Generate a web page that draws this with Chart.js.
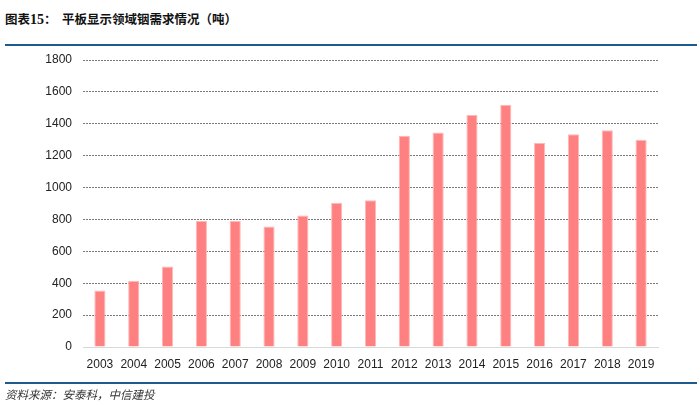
<!DOCTYPE html>
<html>
<head>
<meta charset="utf-8">
<script src="https://cdn.jsdelivr.net/npm/chart.js@4/dist/chart.umd.min.js"></script>
<style>
  html, body { margin: 0; padding: 0; background: #fff; }
  #wrap { position: relative; width: 700px; height: 405px; overflow: hidden; }
  #title { position: absolute; left: 5px; top: 9px; font: bold 12.5px "Noto Sans CJK SC", sans-serif; color: #111; white-space: nowrap; }
  #title .num { font-family: "Liberation Serif", serif; font-size: 14px; }
  #title .main { position: absolute; left: 57px; top: 0; }
  .rule { position: absolute; left: 5px; width: 692px; height: 2px; background: #1F5A8C; }
  #src { position: absolute; left: 5px; top: 386px; font: italic 11.5px "Noto Sans CJK SC", serif; color: #333; white-space: nowrap; }
  canvas { position: absolute; left: 0; top: 0; }
</style>
</head>
<body>
<div id="wrap">
  <div id="title">图表<span class="num">15</span>：<span class="main">平板显示领域铟需求情况（吨）</span></div>
  <div class="rule" style="top:44px"></div>
  <canvas id="c" width="700" height="405"></canvas>
  <div class="rule" style="top:382px"></div>
  <div id="src">资料来源：安泰科，中信建投</div>
</div>
<script>
const categories = ["2003","2004","2005","2006","2007","2008","2009","2010","2011","2012","2013","2014","2015","2016","2017","2018","2019"];
const demand = [355, 415, 505, 790, 790, 755, 825, 905, 920, 1325, 1345, 1455, 1520, 1280, 1335, 1360, 1300];
const yTicks = [0, 200, 400, 600, 800, 1000, 1200, 1400, 1600, 1800];

new Chart(document.getElementById('c'), {
  type: 'bar',
  data: {
    labels: categories,
    datasets: [{
      data: demand,
      backgroundColor: '#FF8080',
      borderColor: '#FFB8B8',
      borderWidth: 1,
      categoryPercentage: 1,
      barPercentage: 0.33
    }]
  },
  options: {
    responsive: false,
    animation: false,
    devicePixelRatio: 1,
    layout: { padding: { left: 0, right: 42, top: 60, bottom: 28 } },
    plugins: { legend: { display: false }, tooltip: { enabled: false } },
    scales: {
      x: {
        grid: { display: false, drawTicks: false },
        border: { display: true, color: '#D9D9D9', width: 1 },
        ticks: { color: '#222', font: { family: 'Liberation Sans', size: 12 }, padding: 10, maxRotation: 0 },
        afterFit: s => { s.height = 30; }
      },
      y: {
        min: 0, max: 1800,
        afterBuildTicks: s => { s.ticks = yTicks.map(v => ({ value: v })); },
        grid: {
          drawTicks: false,
          color: c => c.tick && c.tick.value === 0 ? 'rgba(0,0,0,0)' : '#7A7A7A',
          lineWidth: 1
        },
        border: { display: false, dash: [2, 1] },
        ticks: { color: '#222', font: { family: 'Liberation Sans', size: 12 }, padding: 11, callback: v => String(v) },
        afterFit: s => { s.width = 83; }
      }
    }
  }
});
</script>
</body>
</html>
